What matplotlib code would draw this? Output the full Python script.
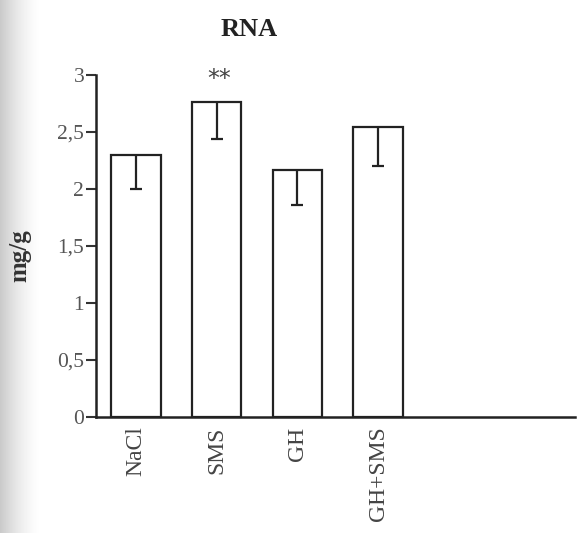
import numpy as np
import matplotlib
matplotlib.use("Agg")
import matplotlib.pyplot as plt

categories = ["NaCl", "SMS", "GH", "GH+SMS"]
values = [2.30, 2.76, 2.17, 2.54]
errors = [0.30, 0.32, 0.31, 0.34]
significance = ["", "**", "", ""]
yticks = [0, 0.5, 1, 1.5, 2, 2.5, 3]
ytick_labels = ["0", "0,5", "1", "1,5", "2", "2,5", "3"]

serif = ["Liberation Serif", "DejaVu Serif"]
plt.rcParams["font.family"] = serif

fig = plt.figure(figsize=(5.8, 5.33), dpi=100)

# scan shadow on the left edge
bg = fig.add_axes([0, 0, 1, 1], zorder=-10)
grad = np.linspace(0, 1, 580)
shade = 1 - 0.21 * np.clip(1 - grad / (42 / 580), 0, 1) ** 1.6
bg.imshow(np.tile(shade, (10, 1)), cmap="gray", vmin=0, vmax=1, aspect="auto",
          extent=[0, 1, 0, 1])
bg.set_axis_off()

ax = fig.add_axes([96 / 580, 116.3 / 533, (575 - 96) / 580, (416.7 - 75) / 533])
ax.patch.set_alpha(0)

x = np.arange(len(categories))
ax.bar(x, values, width=0.61, color="white", edgecolor="#222222", linewidth=1.6, zorder=2)
_, caps, _ = ax.errorbar(x, values, yerr=[errors, [0] * len(errors)], fmt="none",
                         ecolor="#222222", elinewidth=1.6, capsize=4.5, capthick=1.6,
                         zorder=3)
if len(caps) > 1:
    caps[1].set_visible(False)
for xi, v, s in zip(x, values, significance):
    if s:
        ax.text(xi + 0.03, v + 0.1, s, ha="center", va="bottom", fontsize=17,
                color="#444444", family=["DejaVu Sans"])

ax.set_xlim(-0.496, 5.44)
ax.set_ylim(0, 3)
ax.set_yticks(yticks)
ax.set_yticklabels(ytick_labels, fontsize=15.5, color="#555555")
ax.set_xticks(x)
ax.set_xticklabels(categories, rotation=90, fontsize=17, color="#444444")
ax.tick_params(axis="y", direction="out", length=7, width=1.5, pad=1.5, color="#333333")
ax.tick_params(axis="x", length=0, pad=7)
for side in ["top", "right"]:
    ax.spines[side].set_visible(False)
for side in ["left", "bottom"]:
    ax.spines[side].set_linewidth(1.8)
    ax.spines[side].set_color("#222222")

fig.text(249 / 580, 1 - 29 / 533, "RNA", ha="center", va="center", fontsize=19,
         fontweight="bold", color="#222222")
fig.text(20 / 580, 1 - 256 / 533, "mg/g", ha="center", va="center", rotation=90,
         fontsize=18, fontweight="bold", color="#333333")

fig.savefig("out.png", dpi=100)
